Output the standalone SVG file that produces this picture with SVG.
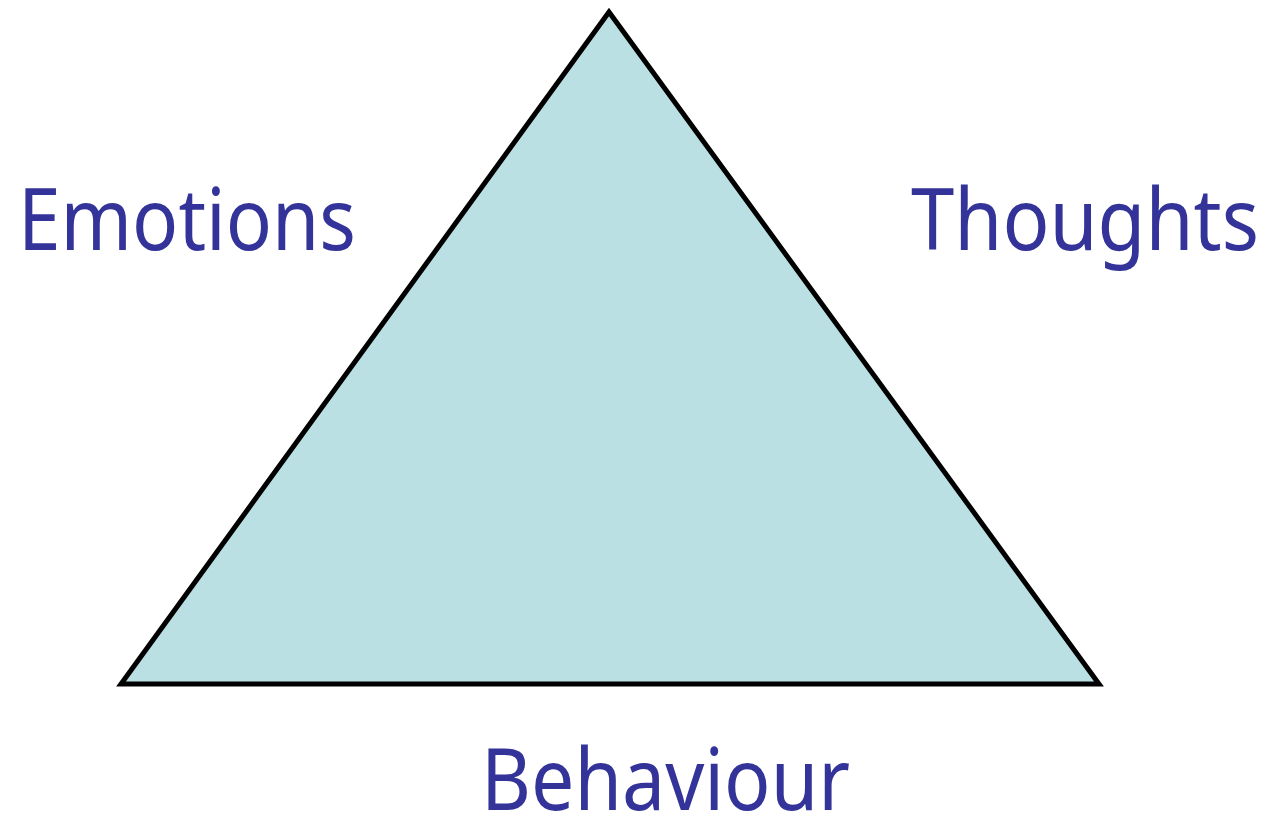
<svg xmlns="http://www.w3.org/2000/svg" width="1268" height="814" viewBox="0 0 1268 814">
<style>
.lbl{font-family:"Noto Sans","Open Sans","DejaVu Sans",sans-serif;font-size:85px;fill:#333399}
</style>
<rect width="1268" height="814" fill="#ffffff"/>
<g id="triangle">
<polygon points="609,12 121,684 1099,684" fill="#BBE0E3" stroke="#000000" stroke-width="5" stroke-linejoin="miter"/>
</g>
<g id="connectors"></g>
<g id="emotions"><text class="lbl" x="18" y="250" textLength="338" lengthAdjust="spacingAndGlyphs">Emotions</text></g>
<g id="thoughts"><text class="lbl" x="911" y="250" textLength="348" lengthAdjust="spacingAndGlyphs">Thoughts</text></g>
<g id="behaviour"><text class="lbl" x="481" y="810" textLength="369" lengthAdjust="spacingAndGlyphs">Behaviour</text></g>
</svg>
